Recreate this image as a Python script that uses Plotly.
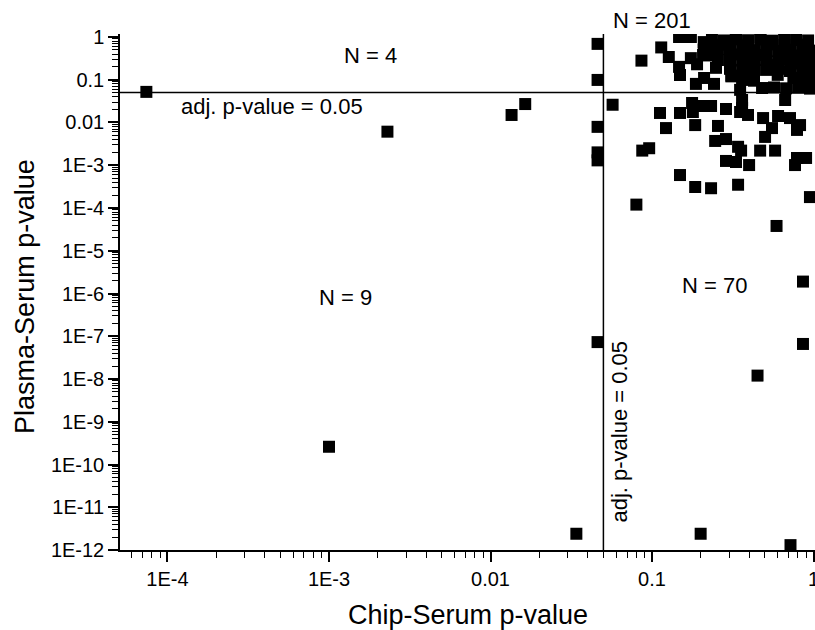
import plotly.graph_objects as go

# ---- data: Chip-Serum p-value (x) vs Plasma-Serum p-value (y) ----
chip_p = [
    # left of threshold / outliers
    7.4e-5, 2.3e-3, 0.0135, 0.0164, 1.0e-3, 0.034,
    0.046, 0.046, 0.046, 0.046, 0.046, 0.046,
    # right, below threshold outliers
    0.057, 0.080, 0.95, 0.59, 0.86, 0.86, 0.45, 0.20, 0.72,
    # right cluster below threshold
    0.112, 0.149, 0.179, 0.207, 0.177, 0.185, 0.122, 0.087, 0.096, 0.149,
    0.185, 0.232, 0.341, 0.256, 0.246, 0.287, 0.287, 0.331, 0.341, 0.356,
    0.399, 0.467, 0.578, 0.768, 0.790, 0.899, 0.501, 0.487, 0.553, 0.603,
    0.715, 0.790, 0.825, 0.351, 0.393, 0.361, 0.287, 0.232, 0.361, 0.667,
    # right cluster above threshold
    0.086, 0.114, 0.127, 0.147, 0.149, 0.147, 0.174, 0.174, 0.207, 0.190,
    0.187, 0.209, 0.209, 0.242, 0.351, 0.33, 0.47,
    0.235, 0.279, 0.331, 0.393, 0.467, 0.553, 0.657, 0.779, 0.925,
    0.216, 0.256, 0.304, 0.361, 0.428, 0.508, 0.603, 0.715, 0.849, 0.979,
    0.256, 0.304, 0.361, 0.428, 0.508, 0.603, 0.715, 0.849, 0.979,
    0.249, 0.304,
    0.361, 0.428, 0.508, 0.603, 0.715, 0.849, 0.979,
    0.361, 0.428, 0.849, 0.979,
    0.480, 0.569, 0.676, 0.802, 0.951,
    0.27, 0.39, 0.55, 0.66, 0.90, 0.33, 0.47, 0.63, 0.77, 0.92,
    0.40, 0.53, 0.74, 0.95, 0.22, 0.31, 0.60, 0.88,
    0.21, 0.40, 0.31, 0.88, 0.97, 0.75,
]
plasma_p = [
    0.052, 0.0061, 0.015, 0.027, 2.6e-10, 2.4e-12,
    0.69, 0.099, 0.0079, 0.0020, 0.0013, 7.3e-8,
    0.026, 1.2e-4, 1.8e-4, 3.8e-5, 1.9e-6, 6.6e-8, 1.2e-8, 2.4e-12, 1.3e-12,
    0.0167, 0.0167, 0.0176, 0.0243, 0.0286, 0.0087, 0.0074, 0.0022, 0.0025, 0.00059,
    0.00031, 0.00029, 0.00035, 0.0083, 0.0037, 0.0041, 0.00126, 0.00119, 0.0027, 0.0022,
    0.00101, 0.0022, 0.0022, 0.00101, 0.00148, 0.00148, 0.0046, 0.0127, 0.0074, 0.0142,
    0.0127, 0.0067, 0.0087, 0.0176, 0.015, 0.0218, 0.0207, 0.0243, 0.0336, 0.0336,
    0.28, 0.57, 0.34, 0.20, 0.129, 1.0, 1.0, 0.32, 0.38, 0.23,
    0.080, 0.76, 0.50, 0.080, 0.058, 1.0, 1.0,
    0.86, 0.83, 0.88, 0.84, 0.87, 0.82, 0.86, 0.85, 0.83,
    0.50, 0.52, 0.48, 0.51, 0.49, 0.53, 0.47, 0.50, 0.52, 0.48,
    0.29, 0.31, 0.28, 0.30, 0.29, 0.27, 0.30, 0.28, 0.31,
    0.19, 0.18,
    0.17, 0.16, 0.17, 0.18, 0.16, 0.17, 0.16,
    0.099, 0.095, 0.10, 0.092,
    0.064, 0.066, 0.063, 0.065, 0.062,
    0.66, 0.64, 0.67, 0.65, 0.66, 0.39, 0.38, 0.40, 0.37, 0.39,
    0.23, 0.22, 0.24, 0.22, 0.37, 0.12, 0.13, 0.12,
    0.11, 0.13, 0.125, 0.125, 0.083, 0.11,
]

threshold = 0.05
x_tickvals = [1e-4, 1e-3, 1e-2, 1e-1, 1]
x_ticktext = ["1E-4", "1E-3", "0.01", "0.1", "1"]
y_tickvals = [1, 0.1, 0.01, 1e-3, 1e-4, 1e-5, 1e-6, 1e-7, 1e-8, 1e-9, 1e-10, 1e-11, 1e-12]
y_ticktext = ["1", "0.1", "0.01", "1E-3", "1E-4", "1E-5", "1E-6", "1E-7",
              "1E-8", "1E-9", "1E-10", "1E-11", "1E-12"]

x_minor = [k * 10.0 ** e for e in range(-5, 1) for k in range(2, 10)]
y_minor = [k * 10.0 ** e for e in range(-12, 1) for k in range(2, 10)]

FONT = "Liberation Sans, Arial, sans-serif"

fig = go.Figure()
# threshold lines
fig.add_trace(go.Scatter(x=[1e-6, 2], y=[threshold, threshold], mode="lines",
                         line=dict(color="black", width=1.5), hoverinfo="skip", showlegend=False))
fig.add_trace(go.Scatter(x=[threshold, threshold], y=[1e-13, 2], mode="lines",
                         line=dict(color="black", width=1.5), hoverinfo="skip", showlegend=False))
# points
fig.add_trace(go.Scatter(x=chip_p, y=plasma_p, mode="markers",
                         marker=dict(symbol="square", size=12, color="black", line=dict(width=0)),
                         showlegend=False))

axis_common = dict(
    showgrid=False, zeroline=False, showline=True, linecolor="black", linewidth=1.5,
    ticks="outside", ticklen=10, tickwidth=1.5, tickcolor="black",
    tickfont=dict(family=FONT, size=20, color="black"), mirror=False, automargin=False,
    ticklabeloverflow="allow",
)
fig.update_xaxes(type="log", range=[-4.294, 0.009], tickmode="array",
                 tickvals=x_tickvals, ticktext=x_ticktext,
                 minor=dict(tickmode="array", tickvals=x_minor, ticks="outside",
                            ticklen=6, tickwidth=1, tickcolor="black", showgrid=False),
                 **axis_common)
fig.update_yaxes(type="log", range=[-12, 0.07], tickmode="array",
                 tickvals=y_tickvals, ticktext=y_ticktext,
                 minor=dict(tickmode="array", tickvals=y_minor, ticks="outside",
                            ticklen=6, tickwidth=1, tickcolor="black", showgrid=False),
                 **axis_common)

ann_font = dict(family=FONT, size=22, color="black")
annotations = [
    dict(text="N = 4", x=0.360, y=0.959),
    dict(text="N = 201", x=0.765, y=1.027),
    dict(text="N = 9", x=0.324, y=0.490),
    dict(text="N = 70", x=0.855, y=0.512),
    dict(text="adj. p-value = 0.05", x=0.219, y=0.859),
    dict(text="adj. p-value = 0.05", x=0.719, y=0.229, textangle=-90),
]
for a in annotations:
    fig.add_annotation(xref="paper", yref="paper", showarrow=False,
                       xanchor="center", yanchor="middle", font=ann_font, **a)
title_font = dict(family=FONT, size=27, color="black")
fig.add_annotation(text="Chip-Serum p-value", xref="paper", yref="paper", x=0.5, y=-0.126,
                   showarrow=False, xanchor="center", yanchor="middle", font=title_font)
fig.add_annotation(text="Plasma-Serum p-value", xref="paper", yref="paper", x=-0.137, y=0.492,
                   showarrow=False, xanchor="center", yanchor="middle", font=title_font,
                   textangle=-90)

fig.update_layout(
    width=815, height=630,
    margin=dict(l=120, r=0, t=34, b=80),
    paper_bgcolor="white", plot_bgcolor="white",
    font=dict(family=FONT, color="black"),
)

fig.write_html(
    "out.html",
    config={"displayModeBar": False},
    post_script="document.body.style.margin='0';document.body.style.overflow='hidden';",
)
